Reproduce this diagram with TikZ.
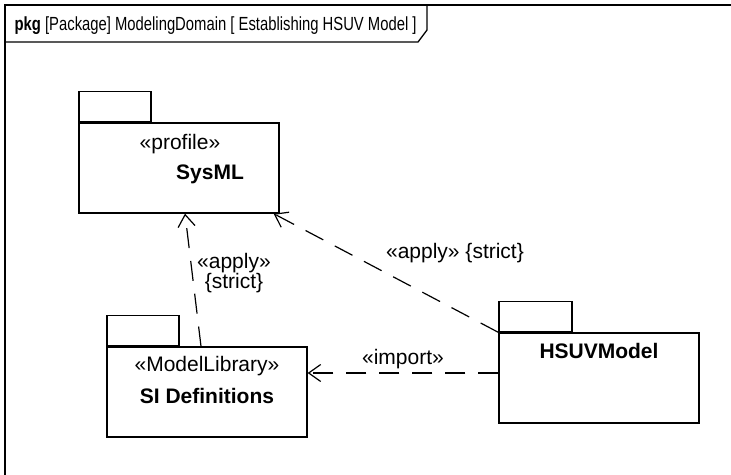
\documentclass[tikz,border=0pt]{standalone}
\usepackage{fontspec}
\setmainfont{Liberation Sans}
\newfontfamily\headfont[FakeStretch=0.78]{Liberation Sans}
\usetikzlibrary{positioning,arrows.meta}

\begin{document}
\begin{tikzpicture}[
  x=1pt, y=1pt, font=\fontsize{21}{20}\selectfont, line width=1.3pt,
  >={Straight Barb[length=12pt,width=17pt]},
  pkgbody/.style={draw,minimum width=200pt,minimum height=90pt,inner sep=0pt},
  pkgtab/.style={draw,minimum width=72pt,minimum height=30pt,inner sep=0pt},
  pkgname/.style={inner sep=1pt,font=\fontsize{21}{20}\selectfont\bfseries},
  dep/.style={->,dash pattern=on 20pt off 13pt,line width=1.2pt},
  lbl/.style={inner sep=1pt,align=center}
]
\useasboundingbox (0,0) rectangle (731,474);
% frame
\draw (5,-10) -- (5,469) -- (740,469);
\draw (5,432) -- (418,432) -- (427,444) -- (427,469);
\node[anchor=base west,inner sep=0pt,font=\headfont\fontsize{19}{20}\selectfont] (title) at (14,443)
  {\textbf{pkg} [Package] ModelingDomain [ Establishing HSUV Model ]};

% packages
\node[pkgbody] (sysml) at (179,306) {};
\node[pkgtab,above right=0pt of sysml.north west] (sysmltab) {};
\node[lbl] (sysmlst) at ([xshift=1pt,yshift=-22pt]sysml.north) {«profile»};
\node[pkgname] (sysmlname) at ([xshift=31pt,yshift=-52pt]sysml.north) {SysML};

\node[pkgbody] (si) at (207,82) {};
\node[pkgtab,above right=0pt of si.north west] (sitab) {};
\node[lbl] (sist) at ([yshift=-20pt]si.north) {«ModelLibrary»};
\node[pkgname] (siname) at ([yshift=-50pt]si.north) {SI Definitions};

\node[pkgbody] (hsuv) at (599,96) {};
\node[pkgtab,minimum width=73pt,above right=0pt of hsuv.north west] (hsuvtab) {};
\node[pkgname] (hsuvname) at ([yshift=-19pt]hsuv.north) {HSUVModel};

% dependencies
\draw[dep] ([xshift=-6pt]si.north) -- ([xshift=6pt]sysml.south);
\draw[dep] (hsuv.north west) -- ([xshift=-6pt]sysml.south east);
\draw[dep] ([yshift=5pt]hsuv.west) -- ([yshift=5pt]hsuv.west -| si.east)
  node[lbl,midway,above=3pt] (imp) {«import»};
\node[lbl] (applysi) at (234,201) {«apply»\\{\{strict\}}};
\node[lbl] (applyhsuv) at (455,221) {«apply» \{strict\}};
\end{tikzpicture}
\end{document}
